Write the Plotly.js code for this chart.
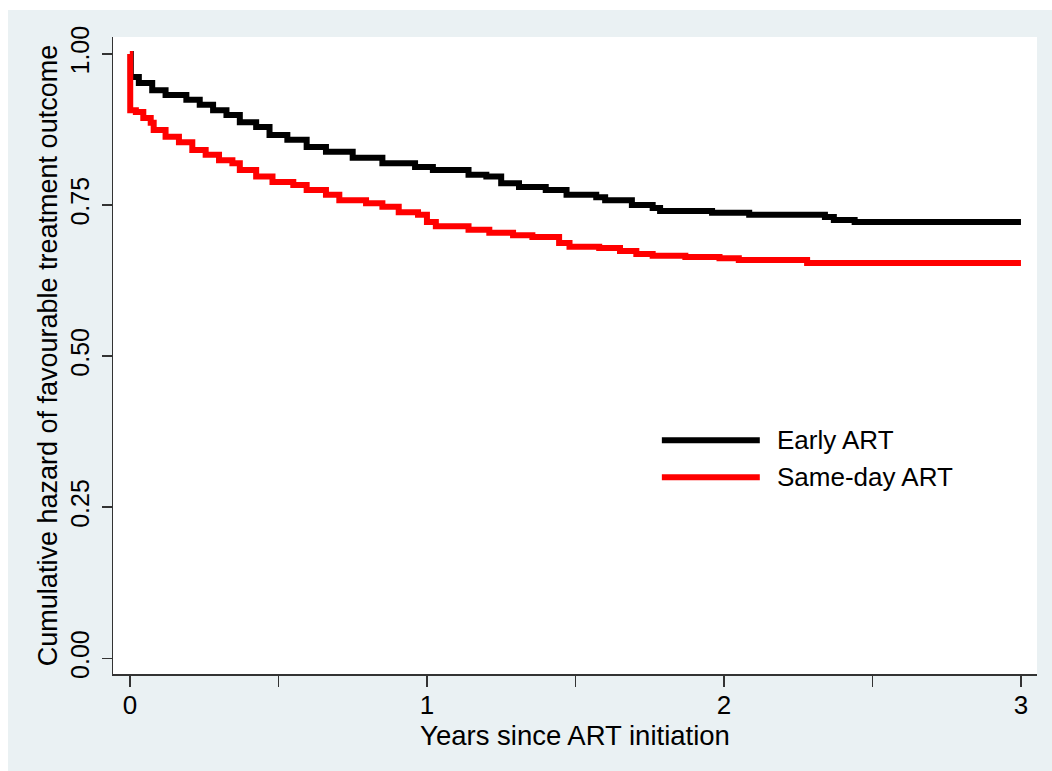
<!DOCTYPE html>
<html>
<head>
<meta charset="utf-8">
<script src="https://cdn.plot.ly/plotly-3.0.1.min.js"></script>
<style>
  html, body { margin: 0; padding: 0; background: #ffffff; }
  #chart { position: absolute; left: 8px; top: 10px; width: 1044px; height: 761px; }
</style>
</head>
<body>
<div id="chart"></div>
<script>
// Early ART (step function: value holds from each time until the next)
const earlyTime = [0, 0.003, 0.03, 0.075, 0.12, 0.19, 0.235, 0.28, 0.325, 0.37, 0.425, 0.47, 0.53, 0.595, 0.66, 0.75, 0.85, 0.96, 1.02, 1.14, 1.2, 1.25, 1.31, 1.40, 1.47, 1.57, 1.6, 1.69, 1.76, 1.785, 1.96, 2.085, 2.34, 2.37, 2.44, 3.0];
const earlyValue = [1.0, 0.962, 0.952, 0.940, 0.932, 0.924, 0.916, 0.907, 0.899, 0.887, 0.879, 0.866, 0.858, 0.846, 0.838, 0.828, 0.819, 0.813, 0.808, 0.800, 0.797, 0.786, 0.780, 0.775, 0.767, 0.763, 0.758, 0.750, 0.745, 0.740, 0.737, 0.734, 0.730, 0.725, 0.722, 0.722];

// Same-day ART
const sameDayTime = [0, 0.001, 0.02, 0.045, 0.07, 0.08, 0.12, 0.165, 0.21, 0.255, 0.30, 0.345, 0.37, 0.425, 0.48, 0.55, 0.595, 0.66, 0.705, 0.795, 0.85, 0.905, 0.97, 1.0, 1.03, 1.14, 1.21, 1.29, 1.355, 1.445, 1.48, 1.58, 1.65, 1.705, 1.76, 1.87, 1.985, 2.05, 2.28, 3.0];
const sameDayValue = [1.0, 0.907, 0.904, 0.894, 0.886, 0.874, 0.863, 0.854, 0.841, 0.833, 0.824, 0.819, 0.808, 0.797, 0.788, 0.783, 0.775, 0.767, 0.758, 0.753, 0.747, 0.738, 0.734, 0.722, 0.715, 0.709, 0.704, 0.700, 0.697, 0.687, 0.681, 0.679, 0.674, 0.669, 0.666, 0.664, 0.662, 0.659, 0.654, 0.654];

const seriesNames = ["Early ART", "Same-day ART"];
const seriesColors = ["#000000", "#ff0000"];
const yTickValues = [0, 0.25, 0.5, 0.75, 1.0];
const xTickValues = [0, 1, 2, 3];
const xTitle = "Years since ART initiation";
const yTitle = "Cumulative hazard of favourable treatment outcome";

const FONT = "Arial, 'Liberation Sans', Helvetica, sans-serif";

const traces = [
  { x: earlyTime, y: earlyValue, name: seriesNames[0], type: "scatter", mode: "lines",
    line: { color: seriesColors[0], width: 6, shape: "hv" } },
  { x: sameDayTime, y: sameDayValue, name: seriesNames[1], type: "scatter", mode: "lines",
    line: { color: seriesColors[1], width: 6, shape: "hv" } }
];

// manual legend (long line samples like the original)
const legY = [0.367, 0.309];
const shapes = seriesNames.map((n, i) => ({
  type: "line", xref: "paper", yref: "paper",
  x0: 0.594, x1: 0.700, y0: legY[i], y1: legY[i],
  line: { color: seriesColors[i], width: 6 }
}));
const annotations = seriesNames.map((n, i) => ({
  text: n, xref: "paper", yref: "paper", x: 0.7165, y: legY[i],
  xanchor: "left", yanchor: "middle", showarrow: false,
  font: { family: FONT, size: 26, color: "#000000" }
}));

const layout = {
  width: 1044, height: 761,
  paper_bgcolor: "#EAF1F3",
  plot_bgcolor: "#ffffff",
  showlegend: false,
  margin: { l: 105, r: 15, t: 27, b: 97 },
  font: { family: FONT, color: "#000000" },
  xaxis: {
    range: [-0.057, 3.054],
    tickvals: xTickValues,
    ticktext: xTickValues.map(String),
    ticks: "outside", ticklen: 11, tickwidth: 1.5, tickcolor: "#333333",
    ticklabelstandoff: -4,
    minor: { dtick: 0.5, tick0: 0, ticks: "outside", ticklen: 11, tickwidth: 1.5, tickcolor: "#333333" },
    showgrid: false, zeroline: false,
    showline: true, linecolor: "#333333", linewidth: 1.5,
    tickfont: { size: 26, family: FONT },
    title: { text: xTitle, font: { size: 27.5, family: FONT }, standoff: 0 },
    automargin: false, fixedrange: true
  },
  yaxis: {
    range: [-0.026, 1.028],
    tickvals: yTickValues,
    tickformat: ".2f",
    tickangle: -90,
    ticks: "outside", ticklen: 10, tickwidth: 1.5, tickcolor: "#333333",
    ticklabelstandoff: 3,
    showgrid: false, zeroline: false,
    showline: true, linecolor: "#333333", linewidth: 1.5,
    tickfont: { size: 25, family: FONT },
    title: { text: yTitle, font: { size: 27, family: FONT }, standoff: 0 },
    automargin: false, fixedrange: true
  },
  shapes: shapes,
  annotations: annotations
};

Plotly.newPlot("chart", traces, layout, { displayModeBar: false, staticPlot: true });
</script>
</body>
</html>
